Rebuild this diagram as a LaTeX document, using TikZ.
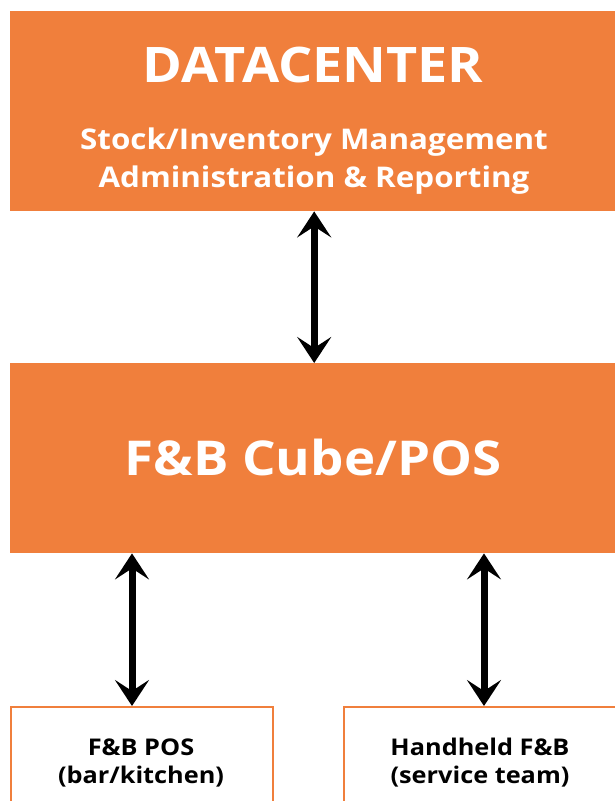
\documentclass[tikz,border=0pt]{standalone}
\usepackage{fontspec}
\setmainfont[FakeStretch=1.1]{Open Sans}
\usepackage{xcolor}
\usetikzlibrary{arrows.meta,positioning}
\definecolor{cubeorange}{HTML}{F07F3C}

\begin{document}
\begin{tikzpicture}[
        x=1pt, y=-1pt,
        >={Stealth[length=26pt, width=34pt, inset=11pt]},
        bigbox/.style={fill=cubeorange, draw=none, inner sep=0pt, anchor=north west},
        smallbox/.style={draw=cubeorange, line width=2pt, fill=white, inner sep=0pt, anchor=north west},
        boxtext/.style={text=white, font=\bfseries, anchor=base, inner sep=0pt},
        smalltext/.style={font=\fontsize{23}{28}\selectfont\bfseries, align=center, inner sep=0pt},
        link/.style={<->, line width=7pt}
        ]
    \useasboundingbox (0,0) rectangle (615,801);
    \clip (0,0) rectangle (615,801);

        % Boxes
        \node[bigbox, minimum width=605pt, minimum height=200pt] (datacenter) at (10,11) {};
        \node[bigbox, minimum width=605pt, minimum height=190pt] (cube) at (10,363) {};
        \node[smallbox, minimum width=262pt, minimum height=110pt] (posbox) at (10,706) {};
        \node[smallbox, minimum width=276pt, minimum height=110pt] (handbox) at (343,706) {};

        % Texts
        \node[boxtext, font=\fontsize{49}{56}\selectfont\bfseries] (dctitle) at (313,82) {DATACENTER};
        \node[boxtext, font=\fontsize{28.5}{38}\selectfont\bfseries] (stock) at (314,149) {Stock/Inventory Management};
        \node[boxtext, font=\fontsize{28.5}{38}\selectfont\bfseries] (admin) at (314,187) {Administration \& Reporting};
        \node[boxtext, font=\fontsize{48}{54}\selectfont\bfseries] (cubetitle) at (313,475) {F\&B Cube/POS};
        \node[smalltext] (postext) at (141,763) {F\&B POS\\(bar/kitchen)};
        \node[smalltext] (handtext) at (480,763) {Handheld F\&B\\(service team)};

        % Arrows
        \draw[link] ([xshift=1.5pt]datacenter.south) -- ([xshift=1.5pt]cube.north);
        \draw[link] (cube.south -| 132,0) -- (posbox.north -| 132,0);
        \draw[link] (cube.south -| 484,0) -- (handbox.north -| 484,0);

    \end{tikzpicture}
\end{document}
